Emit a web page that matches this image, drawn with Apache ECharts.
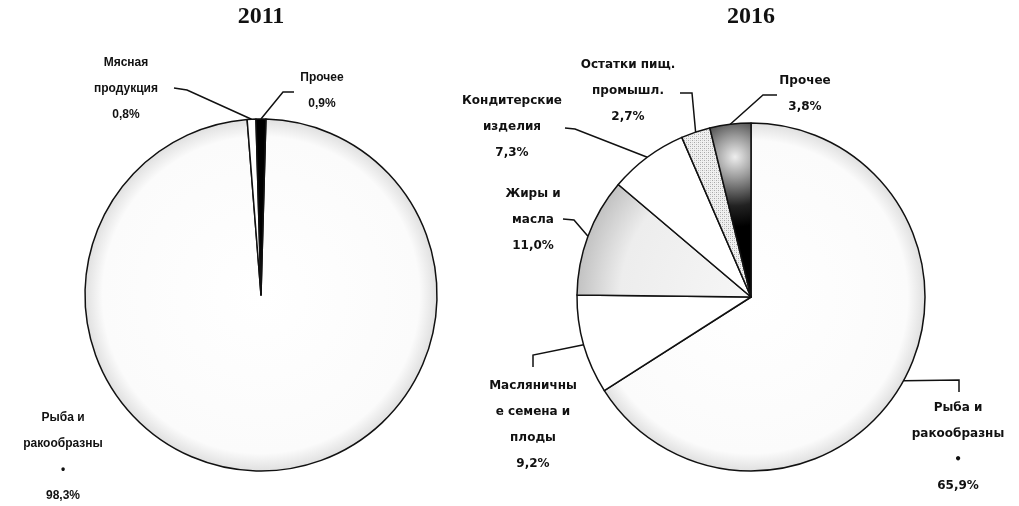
<!DOCTYPE html>
<html>
<head>
<meta charset="utf-8">
<script src="https://cdn.jsdelivr.net/npm/echarts@6/dist/echarts.min.js"></script>
<style>
  html, body { margin: 0; padding: 0; background: #ffffff; }
  #chart { width: 1019px; height: 506px; }
</style>
</head>
<body>
<div id="chart"></div>
<script>
// ---------- DATA ----------
const years = ['2011', '2016'];

const categories2011 = ['Рыба и ракообразны', 'Мясная продукция', 'Прочее'];
const values2011 = [98.3, 0.8, 0.9];
const labelText2011 = ['Рыба и\nракообразны\n•', 'Мясная\nпродукция', 'Прочее'];

const categories2016 = ['Рыба и ракообразны', 'Масляничные семена и плоды', 'Жиры и масла',
                        'Кондитерские изделия', 'Остатки пищ. промышл.', 'Прочее'];
const values2016 = [65.9, 9.2, 11.0, 7.3, 2.7, 3.8];
const labelText2016 = ['Рыба и\nракообразны\n•', 'Масляничны\nе семена и\nплоды', 'Жиры и\nмасла',
                       'Кондитерские\nизделия', 'Остатки пищ.\nпромышл.', 'Прочее'];

// ---------- LAYOUT / STYLE ----------
const pie1 = { center: [261, 295], radius: 176 };
const pie2 = { center: [751, 297], radius: 174 };

// label block centres and leader-line bend points (anchor on pie comes from ECharts)
const labelPos2011 = [
  { x: 63,  y: 457, guide: null },
  { x: 126, y: 89,  guide: [[187, 90], [174, 88]] },
  { x: 322, y: 91,  guide: [[283, 92], [294, 92]] }
];
const labelPos2016 = [
  { x: 958, y: 447, guide: [[959, 380], [959, 392]] },
  { x: 533, y: 425, guide: [[533, 355], [533, 367]] },
  { x: 533, y: 220, guide: [[574, 220], [563, 219]] },
  { x: 512, y: 127, guide: [[575, 129], [565, 128]] },
  { x: 628, y: 91,  guide: [[692, 93], [680, 93]] },
  { x: 805, y: 94,  guide: [[763, 95], [777, 95]] }
];

function dotPattern() {
  const c = document.createElement('canvas');
  c.width = 4; c.height = 4;
  const g = c.getContext('2d');
  g.fillStyle = '#f1f1f1'; g.fillRect(0, 0, 4, 4);
  g.fillStyle = '#a8a8a8';
  g.fillRect(0, 0, 1, 1); g.fillRect(2, 2, 1, 1);
  g.fillStyle = '#cfcfcf';
  g.fillRect(2, 0, 1, 1); g.fillRect(0, 2, 1, 1);
  return c;
}

function radial(p, stops) {
  return {
    type: 'radial', x: p.center[0], y: p.center[1], r: p.radius, global: true,
    colorStops: stops.map(s => ({ offset: s[0], color: s[1] }))
  };
}

const fishFill1 = radial(pie1, [[0, '#ffffff'], [0.9, '#fbfbfb'], [1, '#e0e0e0']]);
const fishFill2 = radial(pie2, [[0, '#ffffff'], [0.9, '#fbfbfb'], [1, '#e0e0e0']]);
const fatFill = radial(pie2, [[0, '#f6f6f6'], [0.75, '#ededed'], [1, '#c2c2c2']]);
const otherFill2 = {
  type: 'radial', x: pie2.center[0] - 16, y: pie2.center[1] - 140, r: 70, global: true,
  colorStops: [{ offset: 0, color: '#eeeeee' }, { offset: 0.3, color: '#9a9a9a' },
               { offset: 0.7, color: '#222222' }, { offset: 1, color: '#000000' }]
};

const colors2011 = [fishFill1, '#ffffff', '#000000'];
const colors2016 = [fishFill2, '#ffffff', fatFill, '#ffffff', { image: dotPattern(), repeat: 'repeat' }, otherFill2];

const fmt = v => v.toFixed(1).replace('.', ',') + '%';

function buildData(cats, vals, texts, cols, pos) {
  return cats.map((c, i) => ({
    name: c,
    value: vals[i],
    labelText: texts[i],
    itemStyle: { color: cols[i] },
    labelLine: { show: pos[i].guide !== null }
  }));
}

function makeLayout(pos) {
  return function (params) {
    const cfg = pos[params.dataIndex];
    const res = { x: cfg.x, y: cfg.y, align: 'center', verticalAlign: 'middle' };
    if (cfg.guide && params.labelLinePoints) {
      const a = params.labelLinePoints[0];
      res.labelLinePoints = [[a[0], a[1]]].concat(cfg.guide.map(p => [p[0], p[1]]));
    }
    return res;
  };
}

function pieSeries(p, data, pos, font, size, startAngle) {
  return {
    type: 'pie',
    center: p.center,
    radius: p.radius,
    startAngle: startAngle,
    clockwise: true,
    avoidLabelOverlap: false,
    animation: false,
    silent: true,
    itemStyle: { borderColor: '#111111', borderWidth: 1.5 },
    label: {
      show: true,
      position: 'outside',
      formatter: prm => prm.data.labelText + '\n' + fmt(prm.value),
      color: '#111111',
      fontFamily: font,
      fontWeight: 'bold',
      fontSize: size,
      lineHeight: 26,
      align: 'center'
    },
    labelLine: { show: true, length: 10, length2: 10, lineStyle: { color: '#111111', width: 1.5 } },
    labelLayout: makeLayout(pos),
    data: data
  };
}

const chart = echarts.init(document.getElementById('chart'), null, { renderer: 'canvas' });
chart.setOption({
  backgroundColor: '#ffffff',
  title: [
    { text: years[0], left: pie1.center[0], top: 5, textAlign: 'center', padding: 0,
      textStyle: { fontFamily: 'Liberation Serif', fontWeight: 'bold', fontSize: 24, color: '#111111' } },
    { text: years[1], left: pie2.center[0], top: 5, textAlign: 'center', padding: 0,
      textStyle: { fontFamily: 'Liberation Serif', fontWeight: 'bold', fontSize: 24, color: '#111111' } }
  ],
  series: [
    pieSeries(pie1, buildData(categories2011, values2011, labelText2011, colors2011, labelPos2011),
              labelPos2011, 'Liberation Sans', 12, 88.4),
    pieSeries(pie2, buildData(categories2016, values2016, labelText2016, colors2016, labelPos2016),
              labelPos2016, 'DejaVu Sans', 12, 90)
  ]
});
</script>
</body>
</html>
